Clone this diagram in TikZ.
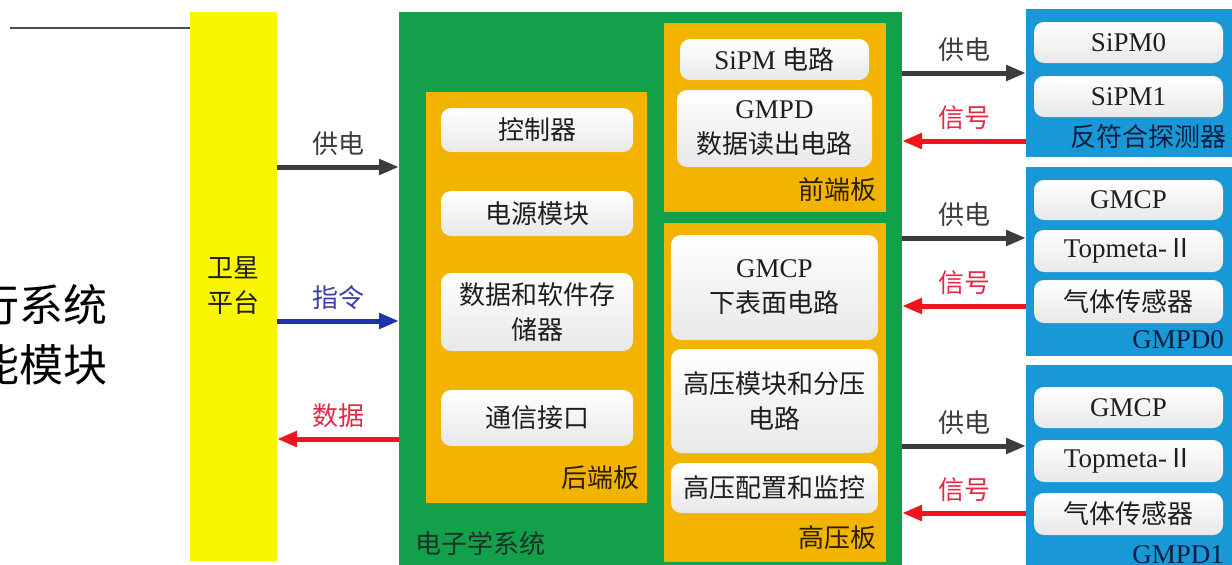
\documentclass[tikz,border=0pt]{standalone}
\usepackage{fontspec}
\setmainfont{Liberation Serif}
\newfontfamily\cjk{Noto Sans CJK SC}
\usetikzlibrary{fit,arrows.meta}
\definecolor{satyellow}{RGB}{250,246,0}
\definecolor{elecgreen}{RGB}{18,160,75}
\definecolor{boardorange}{RGB}{242,180,0}
\definecolor{detblue}{RGB}{25,152,216}
\definecolor{boxgray}{RGB}{232,232,232}
\definecolor{arrdark}{RGB}{60,60,60}
\definecolor{arrblue}{RGB}{30,50,170}
\definecolor{arrred}{RGB}{240,20,30}
\definecolor{labblue}{RGB}{60,60,170}
\definecolor{labred}{RGB}{228,40,70}
\definecolor{txtdark}{RGB}{30,30,30}
\definecolor{brdtxt}{RGB}{45,30,0}
\definecolor{navytxt}{RGB}{10,30,60}
\newcommand\bx{\fontsize{26}{35}\selectfont}
\newcommand\lt{\fontsize{27}{35}\selectfont}
\newcommand\zh[1]{{\bx\cjk #1}}
\tikzset{
  area/.style={inner sep=0pt, outer sep=0pt, draw=none},
  wbox/.style={rounded corners=10pt, top color=white, bottom color=boxgray, draw=none,
    inner sep=0pt, outer sep=0pt, align=center, font=\lt, text=txtdark},
  pwr/.style={draw=arrdark, line width=5pt, -{Triangle[length=20pt,width=15pt]}},
  cmd/.style={draw=arrblue, line width=5pt, -{Triangle[length=20pt,width=15pt]}},
  sig/.style={draw=arrred, line width=5pt, -{Triangle[length=20pt,width=15pt]}},
  lab/.style={midway, yshift=23.5pt, font=\bx\cjk},
  brdlab/.style={font=\bx\cjk, text=brdtxt, inner sep=0pt},
}
\begin{document}
\begin{tikzpicture}[x=1pt,y=-1pt]
\useasboundingbox (0,0) rectangle (1232,565);
% slide remnants
\coordinate (lineL) at (10,28);
\node[anchor=east, inner sep=0pt, font=\fontsize{44}{50}\selectfont\cjk] (t1) at (108,305) {行系统};
\node[anchor=east, inner sep=0pt, font=\fontsize{44}{50}\selectfont\cjk] (t2) at (108,365) {能模块};
% containers
\node[area, fill=satyellow, fit={(190,12) (277,561)}] (sat) {};
\draw[gray!60!black, line width=1.3pt] (lineL) -- (sat.west |- lineL);
\node[align=center, font=\bx\cjk, text=txtdark] at (233,286) {卫星\\平台};
\node[area, fill=elecgreen, fit={(399,12) (902,570)}] (elec) {};
\node[area, fill=boardorange, fit={(426,92) (647,503)}] (back) {};
\node[area, fill=boardorange, fit={(664,23) (886,212)}] (front) {};
\node[area, fill=boardorange, fit={(664,223) (886,562)}] (hv) {};
\node[area, fill=detblue, fit={(1026,9) (1245,157)}] (acd) {};
\node[area, fill=detblue, fit={(1026,167) (1245,356)}] (gmpd0) {};
\node[area, fill=detblue, fit={(1026,365) (1245,575)}] (gmpd1) {};
% back-end board
\node[wbox, minimum width=192pt, minimum height=44pt] (ctrl) at (537,130) {\zh{控制器}};
\node[wbox, minimum width=192pt, minimum height=45pt] (psu) at (537,213.5) {\zh{电源模块}};
\node[wbox, minimum width=192pt, minimum height=78pt] (mem) at (537,312) {\zh{数据和软件存}\\\zh{储器}};
\node[wbox, minimum width=192pt, minimum height=56pt] (comm) at (537,418) {\zh{通信接口}};
\node[brdlab, anchor=east] (backlab) at (640,478) {后端板};
% front-end board
\node[wbox, minimum width=189pt, minimum height=41pt] (sipmc) at (774.5,59.5) {SiPM \zh{电路}};
\node[wbox, minimum width=195pt, minimum height=77pt] (gmpdr) at (774.5,128.5) {GMPD\\\zh{数据读出电路}};
\node[brdlab, anchor=east] (frontlab) at (877,190) {前端板};
% HV board
\node[wbox, minimum width=207pt, minimum height=105pt] (gmcpl) at (774.5,287.5) {GMCP\\\zh{下表面电路}};
\node[wbox, minimum width=207pt, minimum height=104pt] (hvm) at (774.5,401) {\zh{高压模块和分压}\\\zh{电路}};
\node[wbox, minimum width=207pt, minimum height=50pt] (hvc) at (774.5,488) {\zh{高压配置和监控}};
\node[brdlab, anchor=east] (hvlab) at (877,538) {高压板};
\node[font=\bx\cjk, text=txtdark!85!elecgreen, anchor=west, inner sep=0pt] (eleclab) at (415,543) {电子学系统};
% detectors
\node[wbox, minimum width=189pt, minimum height=41pt] (sipm0) at (1128.5,42.5) {SiPM0};
\node[wbox, minimum width=189pt, minimum height=41pt] (sipm1) at (1128.5,96.5) {SiPM1};
\node[font=\bx\cjk, text=navytxt, inner sep=0pt] (acdlab) at (1148,137) {反符合探测器};
\node[wbox, minimum width=189pt, minimum height=40pt] (g0a) at (1128.5,200) {GMCP};
\node[wbox, minimum width=189pt, minimum height=42pt] (g0b) at (1128.5,251) {Topmeta-\zh{Ⅱ}};
\node[wbox, minimum width=189pt, minimum height=43pt] (g0c) at (1128.5,301.5) {\zh{气体传感器}};
\node[font=\lt, text=navytxt, inner sep=0pt, anchor=east] (g0lab) at (1224,340) {GMPD0};
\node[wbox, minimum width=189pt, minimum height=41pt] (g1a) at (1128.5,407.5) {GMCP};
\node[wbox, minimum width=189pt, minimum height=42pt] (g1b) at (1128.5,461) {Topmeta-\zh{Ⅱ}};
\node[wbox, minimum width=189pt, minimum height=42pt] (g1c) at (1128.5,514) {\zh{气体传感器}};
\node[font=\lt, text=navytxt, inner sep=0pt, anchor=east] (g1lab) at (1224,555) {GMPD1};
% left connectors
\draw[pwr] (sat.east |- 0,167) -- node[lab, text=arrdark] {供电} (elec.west |- 0,167);
\draw[cmd] (sat.east |- 0,321) -- node[lab, text=labblue] {指令} (elec.west |- 0,321);
\draw[sig] (elec.west |- 0,439) -- node[lab, text=labred] {数据} (sat.east |- 0,439);
% right connectors
\draw[pwr] (elec.east |- 0,73) -- node[lab, text=arrdark] {供电} (acd.west |- 0,73);
\draw[sig] (acd.west |- 0,141) -- node[lab, text=labred] {信号} (elec.east |- 0,141);
\draw[pwr] (elec.east |- 0,238) -- node[lab, text=arrdark] {供电} (gmpd0.west |- 0,238);
\draw[sig] (gmpd0.west |- 0,306) -- node[lab, text=labred] {信号} (elec.east |- 0,306);
\draw[pwr] (elec.east |- 0,446) -- node[lab, text=arrdark] {供电} (gmpd1.west |- 0,446);
\draw[sig] (gmpd1.west |- 0,513) -- node[lab, text=labred] {信号} (elec.east |- 0,513);
\end{tikzpicture}
\end{document}
